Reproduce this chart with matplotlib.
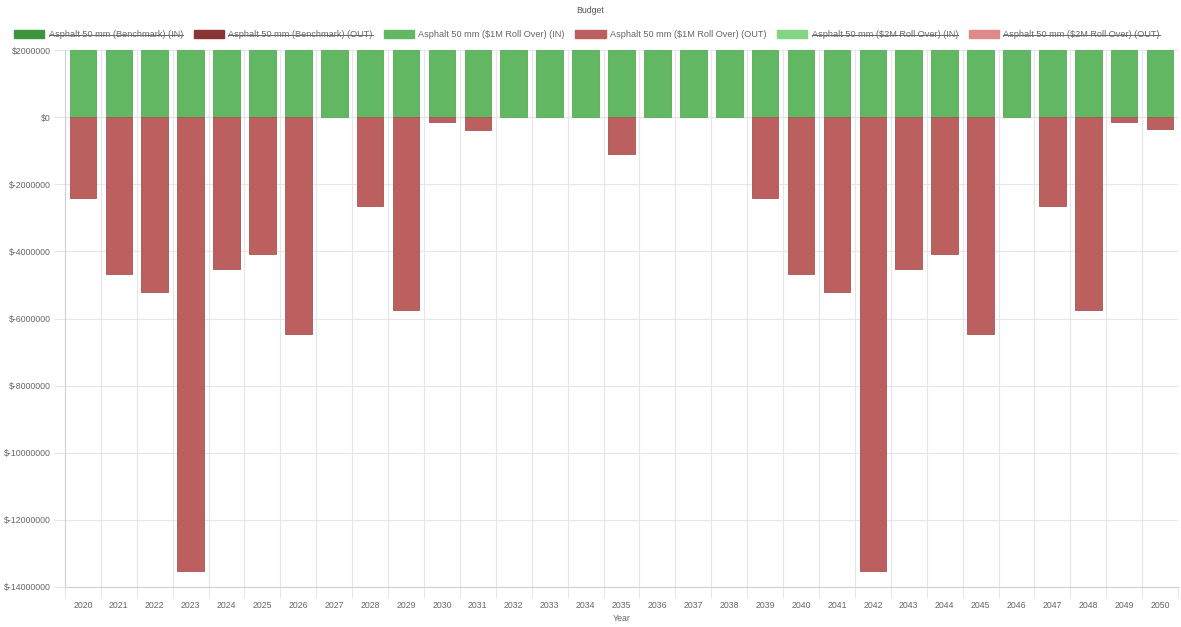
import numpy as np
import matplotlib.pyplot as plt
from matplotlib.lines import Line2D
from matplotlib.patches import Patch

plt.rcParams['font.family'] = ['Liberation Sans', 'DejaVu Sans']

# data
years = list(range(2020, 2051))
budget_in = [2000000] * len(years)
budget_out = [-2400000, -4680000, -5200000, -13520000, -4530000, -4080000, -6450000, 0,
              -2650000, -5750000, -140000, -370000, 0, 0, 0, -1110000, 0, 0, 0,
              -2400000, -4680000, -5200000, -13520000, -4530000, -4080000, -6450000, 0,
              -2650000, -5750000, -150000, -350000]

legend_labels = ['Asphalt 50 mm (Benchmark) (IN)', 'Asphalt 50 mm (Benchmark) (OUT)',
                 'Asphalt 50 mm ($1M Roll Over) (IN)', 'Asphalt 50 mm ($1M Roll Over) (OUT)',
                 'Asphalt 50 mm ($2M Roll Over) (IN)', 'Asphalt 50 mm ($2M Roll Over) (OUT)']
legend_colors = ['#3d963d', '#8a3535', '#62b862', '#bb5f5f', '#82d682', '#de8a8a']
hidden = [True, True, False, False, True, True]

green = '#62b862'
red = '#bb5f5f'
grid_c = '#e6e6e6'
text_c = '#666666'

fig = plt.figure(figsize=(11.81, 6.27), dpi=100)
ax = fig.add_axes([0.055, 0.064, 0.9425, 0.856])

x = np.arange(len(years))
out = np.array(budget_out)
ax.bar(x, budget_in, width=0.74, color=green, edgecolor='#59a859', linewidth=0.6, zorder=3)
m = out != 0
ax.bar(x[m], out[m], width=0.74, color=red, edgecolor='#a85454', linewidth=0.6, zorder=3)

ax.set_xlim(-0.5, len(years) - 0.5)
ax.set_ylim(-14000000, 2000000)

ax.set_xticks(x)
ax.set_xticklabels([str(y) for y in years])
ax.set_xticks(np.arange(-0.5, len(years), 1), minor=True)
ax.set_yticks(np.arange(-14000000, 2000001, 2000000))
ax.yaxis.set_major_formatter(plt.FuncFormatter(lambda v, p: f'${int(v)}'))

ax.tick_params(axis='x', which='major', length=0, pad=10, labelsize=6.3, labelcolor=text_c)
ax.tick_params(axis='x', which='minor', length=8, color=grid_c, width=0.8)
ax.tick_params(axis='y', length=8, color=grid_c, width=0.8, pad=2, labelsize=6.3, labelcolor=text_c)

ax.grid(axis='x', which='minor', color=grid_c, linewidth=0.8, zorder=0)
ax.grid(axis='y', which='major', color=grid_c, linewidth=0.8, zorder=0)
ax.axhline(0, color='#c4c4c4', linewidth=0.9, zorder=1)
for s in ax.spines.values():
    s.set_visible(False)
ax.spines['left'].set_visible(True)
ax.spines['left'].set_color('#d0d0d0')
ax.spines['bottom'].set_visible(True)
ax.spines['bottom'].set_color('#d0d0d0')

ax.set_xlabel('Year', fontsize=6.3, color=text_c, labelpad=3)
fig.text(0.5, 0.99, 'Budget', ha='center', va='top', fontsize=6.3, color='#555555')

handles = [Patch(facecolor=c, edgecolor=c) for c in legend_colors]
leg = fig.legend(handles, legend_labels, loc='upper center', bbox_to_anchor=(0.497, 0.958),
                 ncol=6, frameon=False, fontsize=6.6, handlelength=3.3, handleheight=1.0,
                 handletextpad=0.45, columnspacing=1.2, borderaxespad=0)
for t in leg.get_texts():
    t.set_color(text_c)

# strike through the hidden datasets like the original legend
fig.canvas.draw()
inv = fig.transFigure.inverted()
for t, h in zip(leg.get_texts(), hidden):
    if h:
        bb = t.get_window_extent()
        (x0, y0), (x1, y1) = inv.transform([[bb.x0, bb.y0], [bb.x1, bb.y1]])
        ym = (y0 + y1) / 2
        fig.add_artist(Line2D([x0, x1], [ym, ym], transform=fig.transFigure,
                              color=text_c, linewidth=0.7))

fig.savefig('out.png', dpi=100)
